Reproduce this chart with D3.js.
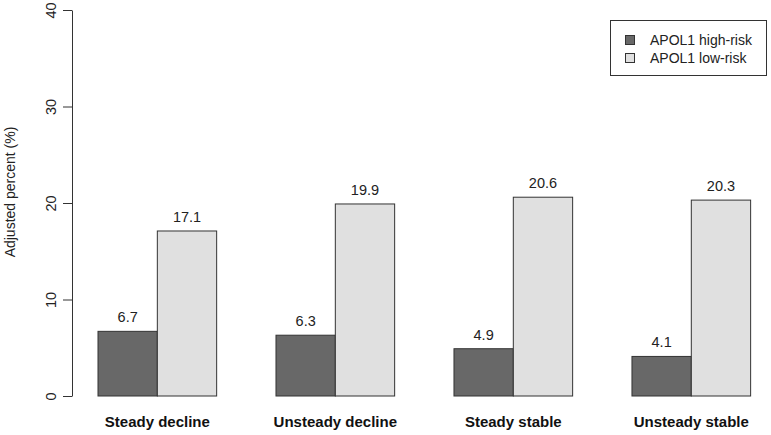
<!DOCTYPE html>
<html><head><meta charset="utf-8">
<script src="https://cdn.jsdelivr.net/npm/d3@7"></script>
<style>body{margin:0;background:#fff}svg{display:block}text{font-family:"Liberation Sans",Arial,sans-serif}</style>
</head><body>
<script>
const categories = ["Steady decline","Unsteady decline","Steady stable","Unsteady stable"];
const seriesNames = ["APOL1 high-risk","APOL1 low-risk"];
const highRisk = [6.7, 6.3, 4.9, 4.1];
const lowRisk = [17.1, 19.9, 20.6, 20.3];
const yTicks = [0,10,20,30,40];
const colors = ["#686868","#e0e0e0"];

const W=771,H=435;
const svg=d3.select("body").append("svg").attr("width",W).attr("height",H);
const y=d3.scaleLinear().domain([0,40]).range([396,10]);
const unitPx=59.33, x0=98;
const xu=d3.scaleLinear().domain([1,13]).range([x0,x0+12*unitPx]);
const series=[highRisk,lowRisk];
const bars=[];
categories.forEach((c,i)=>{series.forEach((s,j)=>{bars.push({i,j,v:s[i],u:1+i*3+j});});});

svg.selectAll("rect.bar").data(bars).enter().append("rect")
 .attr("x",d=>xu(d.u)).attr("width",d=>xu(d.u+1)-xu(d.u))
 .attr("y",d=>y(d.v)).attr("height",d=>y(0)-y(d.v))
 .attr("fill",d=>colors[d.j]).attr("stroke","#333").attr("stroke-width",1);

svg.selectAll("text.val").data(bars).enter().append("text")
 .attr("x",d=>xu(d.u+0.5)).attr("y",d=>y(d.v)-9).attr("text-anchor","middle")
 .attr("font-size",14.5).attr("fill","#222").text(d=>d.v.toFixed(1));

svg.selectAll("text.cat").data(categories).enter().append("text")
 .attr("x",(d,i)=>xu(2+i*3)).attr("y",427).attr("text-anchor","middle")
 .attr("font-size",15).attr("font-weight","bold").attr("fill","#111").text(d=>d);

const ax=svg.append("g").attr("transform","translate(72,0)")
 .call(d3.axisLeft(y).tickValues(yTicks).tickSize(9).tickSizeOuter(0));
ax.select(".domain").attr("stroke","#333");
ax.selectAll(".tick line").attr("stroke","#333");
ax.selectAll(".tick text").each(function(){
  d3.select(this).attr("x",null).attr("dy",null).attr("text-anchor","middle")
   .attr("font-size",14.5).attr("fill","#222")
   .attr("font-family","Liberation Sans,Arial,sans-serif")
   .attr("transform","translate(-21,0) rotate(-90)").attr("y",5);
});

svg.append("text").attr("transform","translate(15,192) rotate(-90)")
 .attr("text-anchor","middle").attr("font-size",14).attr("fill","#222").text("Adjusted percent (%)");

const lg=svg.append("g");
lg.append("rect").attr("x",610.5).attr("y",20.5).attr("width",156).attr("height",55)
 .attr("fill","#fff").attr("stroke","#333");
seriesNames.forEach((n,j)=>{
  lg.append("rect").attr("x",625.5).attr("y",35.5+j*18).attr("width",9).attr("height",9)
   .attr("fill",colors[j]).attr("stroke","#333");
  lg.append("text").attr("x",650).attr("y",45+j*18).attr("font-size",14).attr("fill","#222").text(n);
});
</script>
</body></html>
